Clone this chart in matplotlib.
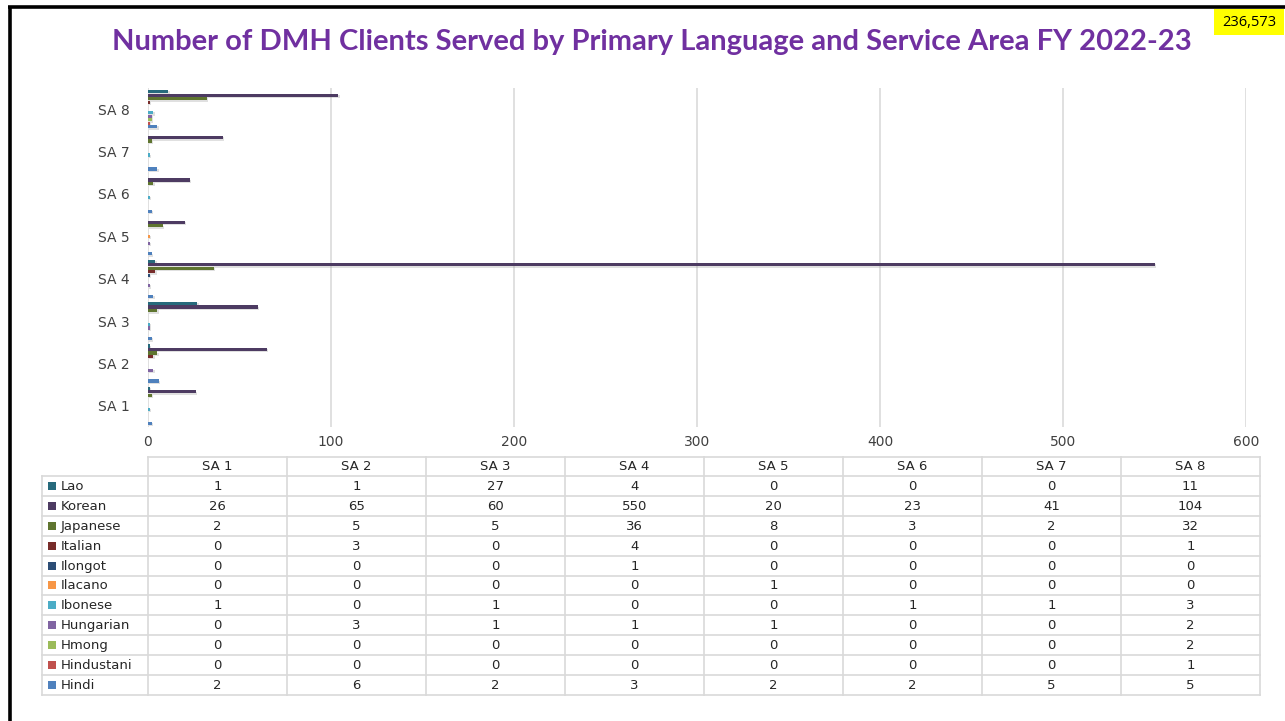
import matplotlib.pyplot as plt
import matplotlib.patheffects as pe
from matplotlib.patches import Rectangle
import numpy as np

plt.rcParams['font.family'] = ['DejaVu Sans']

areas = ["SA 1", "SA 2", "SA 3", "SA 4", "SA 5", "SA 6", "SA 7", "SA 8"]
languages = ["Lao", "Korean", "Japanese", "Italian", "Ilongot", "Ilacano",
             "Ibonese", "Hungarian", "Hmong", "Hindustani", "Hindi"]
lao = [1, 1, 27, 4, 0, 0, 0, 11]
korean = [26, 65, 60, 550, 20, 23, 41, 104]
japanese = [2, 5, 5, 36, 8, 3, 2, 32]
italian = [0, 3, 0, 4, 0, 0, 0, 1]
ilongot = [0, 0, 0, 1, 0, 0, 0, 0]
ilacano = [0, 0, 0, 0, 1, 0, 0, 0]
ibonese = [1, 0, 1, 0, 0, 1, 1, 3]
hungarian = [0, 3, 1, 1, 1, 0, 0, 2]
hmong = [0, 0, 0, 0, 0, 0, 0, 2]
hindustani = [0, 0, 0, 0, 0, 0, 0, 1]
hindi = [2, 6, 2, 3, 2, 2, 5, 5]
total_clients = "236,573"
xticks = [0, 100, 200, 300, 400, 500, 600]

series = [lao, korean, japanese, italian, ilongot, ilacano,
          ibonese, hungarian, hmong, hindustani, hindi]
colors = ["#276A7C", "#4D3B62", "#5F7530", "#772C2A", "#2C4D75", "#F79646",
          "#4BACC6", "#8064A2", "#9BBB59", "#C0504D", "#4F81BD"]

W, H = 1285, 721
fig = plt.figure(figsize=(W / 100, H / 100), dpi=100)
fig.patch.set_facecolor("white")

# bar chart
ax = fig.add_axes([148 / W, 1 - 427 / H, (1246 - 148) / W, (427 - 88) / H])
y = np.arange(len(areas))
step = 0.0825
shadow = [pe.SimplePatchShadow(offset=(1, -1), shadow_rgbFace="#999999", alpha=0.3),
          pe.Normal()]
for k, (vals, c) in enumerate(zip(series, colors)):
    bars = ax.barh(y + (5 - k) * step, vals, height=step * 0.92, color=c, zorder=3)
    for b in bars:
        b.set_path_effects(shadow)

ax.set_xlim(0, 600)
ax.set_ylim(-0.5, len(areas) - 0.5)
ax.set_xticks(xticks)
ax.set_yticks(y)
ax.set_yticklabels(areas)
ax.grid(axis="x", color="#DDDDDD", linewidth=1.3, zorder=0)
for s in ax.spines.values():
    s.set_visible(False)
ax.tick_params(length=0, labelsize=10, colors="#404040", pad=6)
ax.tick_params(axis="y", pad=13)

# overlay in pixel coordinates for table, frame and labels
ov = fig.add_axes([0, 0, 1, 1], zorder=5)
ov.set_xlim(0, W)
ov.set_ylim(H, 0)
ov.axis("off")
ov.patch.set_alpha(0)

ov.text(652, 42, "Number of DMH Clients Served by Primary Language and Service Area FY 2022-23",
        ha="center", va="center", fontsize=21, fontweight="bold", color="#7030A0",
        family="Lato")

# outer frame lines
ov.plot([9.5, 9.5], [6, H], color="black", lw=2.6, solid_capstyle="butt")
ov.plot([8, W], [6.5, 6.5], color="black", lw=2.6, solid_capstyle="butt")

# yellow total box
ov.add_patch(Rectangle((1214, 9), 70, 26, facecolor="#FFFF00", edgecolor="none"))
ov.text(1249, 22, total_clients, ha="center", va="center", fontsize=10.5,
        family="Open Sans", color="black")

# data table
gc = "#D9D9D9"
fs = 9.5
x0, xl, xr = 148, 42, 1260
cw = (xr - x0) / len(areas)
top, hdr, rh = 457, 476, 19.9
nrows = len(languages)
bottom = hdr + nrows * rh
ov.plot([x0, xr], [top, top], color=gc, lw=1.2)
for i in range(len(areas) + 1):
    ov.plot([x0 + i * cw] * 2, [top, bottom], color=gc, lw=1.2)
ov.plot([xl, xl], [hdr, bottom], color=gc, lw=1.2)
for r in range(nrows + 1):
    ov.plot([xl, xr], [hdr + r * rh] * 2, color=gc, lw=1.2)
for i, a in enumerate(areas):
    ov.text(x0 + (i + 0.5) * cw, (top + hdr) / 2 + 0.5, a, ha="center", va="center",
            fontsize=fs, color="#262626")
for r, (lang, vals, c) in enumerate(zip(languages, series, colors)):
    yc = hdr + (r + 0.5) * rh
    ov.add_patch(Rectangle((48, yc - 4), 8, 8, facecolor=c, edgecolor="none"))
    ov.text(61, yc + 0.5, lang, ha="left", va="center", fontsize=fs, color="#262626")
    for i, v in enumerate(vals):
        ov.text(x0 + (i + 0.5) * cw, yc + 0.5, str(v), ha="center", va="center",
                fontsize=fs, color="#262626")

fig.savefig("out.png", dpi=100)
